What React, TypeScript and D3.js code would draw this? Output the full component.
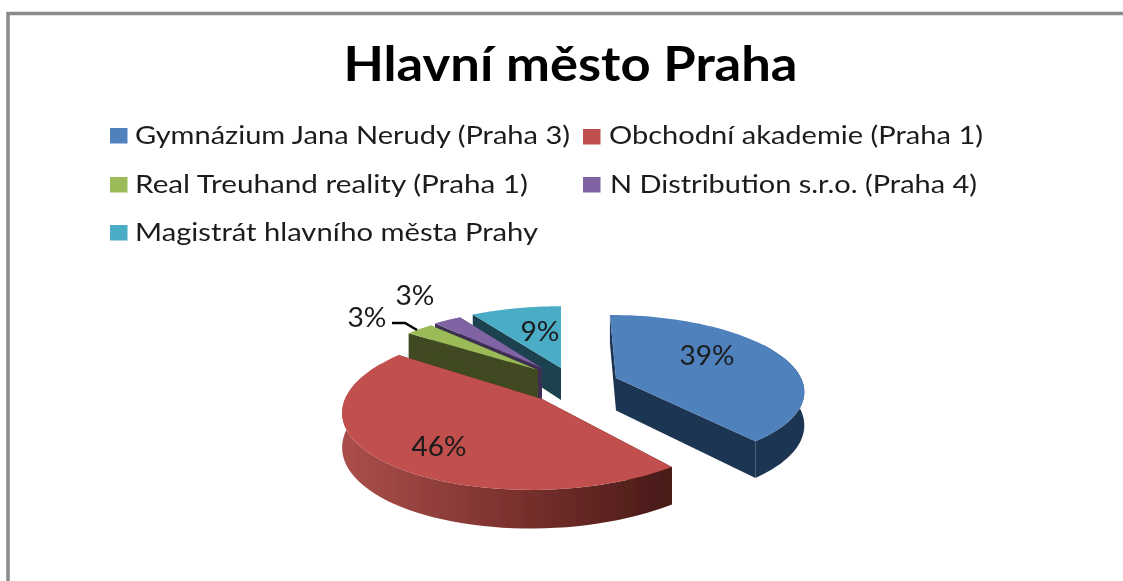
import React from "react";
import * as d3 from "d3";

const categories = [
  "Gymnázium Jana Nerudy (Praha 3)",
  "Obchodní akademie (Praha 1)",
  "Real Treuhand reality (Praha 1)",
  "N Distribution s.r.o. (Praha 4)",
  "Magistrát hlavního města Prahy",
];
const shares = [39, 46, 3, 3, 9];
const topColors = ["#4f81bd", "#c0504d", "#9bbb59", "#8064a2", "#4bacc6"];
const wallColors = ["#1f3552", "url(#redWall)", "#3f4a20", "#3c2d52", "#1c4350"];
const title = "Hlavní město Praha";

// geometry of the drawing: exploded slice apexes and the perspective of each slice
const apex = [[616, 378], [542, 399], [538, 370], [542, 368], [561, 368]];
const rxBySlice = [185, 197, 177, 177, 190];
const ryBySlice = [72.5, 80, 69.3, 69.3, 73];
const kBySlice = [0.15, 0.12, 0.1818, 0.1818, 0.1818];
const shear = [7, -10, 0, 0, 0];
const depthBySlice = [32.5, 34, 32, 32, 32];
const legendPos = [
  { sx: 110, sy: 128, tx: 135, y: 144, w: 435 },
  { sx: 583, sy: 129, tx: 609, y: 144, w: 374 },
  { sx: 110, sy: 177, tx: 135, y: 193, w: 393 },
  { sx: 583, sy: 177, tx: 610, y: 193, w: 367 },
  { sx: 110, sy: 225, tx: 135, y: 241, w: 403 },
];
const labelPos = [[707, 355], [439, 446], [367, 317], [415, 295], [540, 331]];

function project(i: number, theta: number, r: number, z = 0): [number, number] {
  const u = Math.sin(theta) * r;
  const v = -Math.cos(theta) * r;
  const w = 1 / (1 - kBySlice[i] * v);
  return [
    apex[i][0] + (u * rxBySlice[i] + shear[i] * v) * w,
    apex[i][1] + v * ryBySlice[i] * w + z * depthBySlice[i] * w,
  ];
}

const line = d3.line();

function slicePaths(i: number, a0: number, a1: number) {
  const angles = d3.range(0, 61).map((k) => a0 + ((a1 - a0) * k) / 60);
  const rim = angles.map((t) => project(i, t, 1));
  const c = project(i, 0, 0);
  const top = line([c, ...rim])! + "Z";
  // outer wall: the near part of the rim, extruded downwards; the top face covers its far edge
  const near = angles.filter((t) => Math.cos(t) < 0.5);
  const outer =
    near.length > 1
      ? line([
          ...near.map((t) => project(i, t, 1)),
          ...near.slice().reverse().map((t) => project(i, t, 1, 1)),
        ])! + "Z"
      : "";
  const radial = (t: number) =>
    line([project(i, t, 0), project(i, t, 1), project(i, t, 1, 1), project(i, t, 0, 1)])! + "Z";
  return { top, outer, start: radial(a0), end: radial(a1) };
}

export default function App() {
  const arcs = d3
    .pie<number>()
    .sort(null)
    .value((d) => d)(shares);

  const font = "Lato, 'Open Sans', sans-serif";
  const order = [4, 3, 2, 0, 1];

  return (
    <svg
      width={1123}
      height={581}
      style={{ position: "fixed", left: 0, top: 0, background: "#fff" }}
      fontFamily={font}
    >
      <defs>
        <linearGradient id="redWall" gradientUnits="userSpaceOnUse" x1={342} x2={672} y1={0} y2={0}>
          <stop offset="0" stopColor="#ab4f4b" />
          <stop offset="0.5" stopColor="#7d322f" />
          <stop offset="1" stopColor="#481a18" />
        </linearGradient>
        <filter id="soft" x="-5%" y="-5%" width="110%" height="110%">
          <feGaussianBlur stdDeviation="0.7" />
        </filter>
      </defs>
      <path d="M8 581V13.5H1123" fill="none" stroke="#8a8a8a" strokeWidth={3.5} />
      <g filter="url(#soft)">
        <text x={570.5} y={81} textAnchor="middle" fontSize={47} fontWeight={700} fill="#000"
          textLength={454} lengthAdjust="spacingAndGlyphs">{title}</text>
        {categories.map((c, i) => (
          <g key={c}>
            <rect x={legendPos[i].sx} y={legendPos[i].sy} width={17.5} height={15.5} fill={topColors[i]} />
            <text x={legendPos[i].tx} y={legendPos[i].y} fontSize={25} fill="#1a1a1a"
              textLength={legendPos[i].w} lengthAdjust="spacingAndGlyphs">{c}</text>
          </g>
        ))}
        {order.map((i) => {
          const a = arcs[i];
          const p = slicePaths(i, a.startAngle, a.endAngle);
          return (
            <g key={i}>
              <path d={p.start} fill={i === 1 ? "#481a18" : wallColors[i]} />
              <path d={p.end} fill={i === 1 ? "#481a18" : wallColors[i]} />
              {p.outer && <path d={p.outer} fill={wallColors[i]} />}
              <path d={p.top} fill={topColors[i]} />
            </g>
          );
        })}
        <path d={line([[392, 323], [405, 323], [417, 330]])!} fill="none" stroke="#000" strokeWidth={2.5} />
        {shares.map((s, i) => (
          <text key={i} x={labelPos[i][0]} y={labelPos[i][1]} textAnchor="middle" dominantBaseline="central"
            fontSize={26} fill="#1a1a1a" textLength={String(s).length === 2 ? 55 : 39}
            lengthAdjust="spacingAndGlyphs">{s}%</text>
        ))}
      </g>
    </svg>
  );
}
